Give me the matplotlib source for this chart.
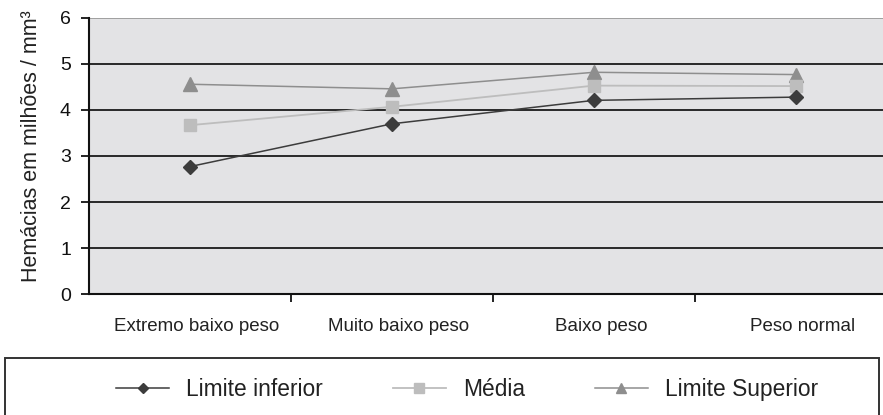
import numpy as np
import matplotlib
matplotlib.use("Agg")
import matplotlib.pyplot as plt
import matplotlib.transforms as mtransforms
from matplotlib.patches import Rectangle

plt.rcParams['font.family'] = ['Liberation Sans', 'DejaVu Sans']

# grupos de peso ao nascer
categorias = ["Extremo baixo peso", "Muito baixo peso", "Baixo peso", "Peso normal"]
limite_inferior = [2.77, 3.70, 4.21, 4.28]
media = [3.67, 4.07, 4.53, 4.52]
limite_superior = [4.56, 4.46, 4.82, 4.77]

fig = plt.figure(figsize=(8.83, 4.15), dpi=100)
ax = fig.add_axes([89/883, 1 - 294/415, 808/883, 276/415])
ax.set_facecolor("#e3e3e5")

x = np.arange(len(categorias))
ax.plot(x, limite_superior, color="#8e8e8e", lw=1.1, marker="^", ms=9.5, label="Limite Superior", zorder=3)
ax.plot(x, media, color="#bdbdbd", lw=1.3, marker="s", ms=9, label="Média", zorder=4)
ax.plot(x, limite_inferior, color="#3c3c3c", lw=1.1, marker="D", ms=7, label="Limite inferior", zorder=5)

ax.set_xlim(-0.5, 3.5)
ax.set_ylim(0, 6)
ax.set_yticks(range(7))
for yv in range(1, 6):
    ax.axhline(yv, color="#1a1a1a", lw=1.3, zorder=1)
ax.axhline(6, color="#9a9a9a", lw=1.3, zorder=1)

# ticks nas divisas entre grupos, rótulos no centro
ax.set_xticks([0.5, 1.5, 2.5], minor=False)
ax.set_xticklabels([])
ax.set_xticks(x, minor=True)
ax.set_xticklabels(categorias, minor=True, fontsize=13.5)
ax.tick_params(axis="x", which="minor", length=0, pad=17)
ax.tick_params(axis="x", which="major", length=6, width=1.3, direction="out", colors="#111111")
ax.tick_params(axis="y", length=6, width=1.3, labelsize=14, pad=7, colors="#111111")
desloc = mtransforms.ScaledTranslation(0.07, 0, fig.dpi_scale_trans)
for lab in ax.get_xticklabels(minor=True):
    lab.set_color("#222222")
    lab.set_transform(lab.get_transform() + desloc)

for s in ["top", "right"]:
    ax.spines[s].set_visible(False)
for s in ["left", "bottom"]:
    ax.spines[s].set_linewidth(1.5)
    ax.spines[s].set_color("#111111")

ax.set_ylabel("Hemácias em milhões / mm³", fontsize=15.5, color="#222222")
ax.yaxis.set_label_coords(-0.058, 0.536)

# caixa da legenda
fig.patches.append(Rectangle((5/883, -0.01), 874/883, 0.01 + 1 - 358/415,
                             transform=fig.transFigure, fill=False,
                             edgecolor="#333333", lw=1.4))
h, l = ax.get_legend_handles_labels()
order = [2, 1, 0]
fig.legend([h[i] for i in order], [l[i] for i in order], loc="center",
           bbox_to_anchor=(0.529, 1 - 389/415), ncol=3, frameon=False,
           fontsize=16.4, handlelength=2.3, handletextpad=0.75, columnspacing=3.1,
           markerscale=0.75, labelcolor="#222222")

fig.savefig("out.png", dpi=100)
